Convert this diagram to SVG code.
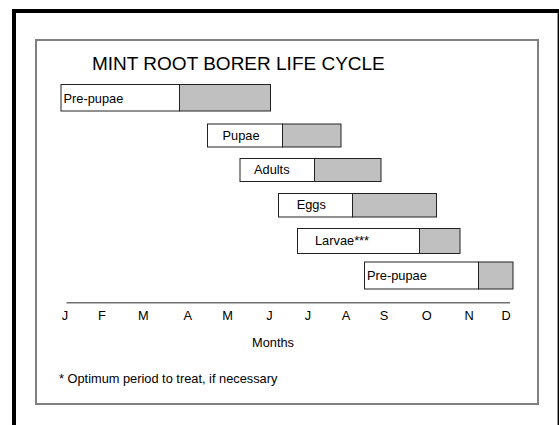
<svg xmlns="http://www.w3.org/2000/svg" width="559" height="425" viewBox="0 0 559 425">
<style>
.lbl{font-family:"Liberation Sans",Arial,sans-serif;font-size:12.8px;fill:#000}
.title{font-family:"Liberation Sans",Arial,sans-serif;font-size:19px;fill:#000}
.w{fill:#fff;stroke:#222;stroke-width:1}
.g{fill:#c0c0c0;stroke:#222;stroke-width:1}
.m{text-anchor:middle}
</style>
<rect width="559" height="425" fill="#fff"/>
<path d="M14 425 V11 H559" fill="none" stroke="#000" stroke-width="4"/>
<line x1="558.3" y1="11" x2="558.3" y2="425" stroke="#000" stroke-width="1.4"/>
<rect x="36" y="40" width="502" height="364" fill="none" stroke="#808080" stroke-width="2"/>
<text class="title" x="92" y="70">MINT ROOT BORER LIFE CYCLE</text>
<g id="prepupae1">
<rect class="w" x="61" y="84.5" width="118.5" height="26.5"/>
<rect class="g" x="179.5" y="84.5" width="91" height="26.5"/>
<text class="lbl" x="63.5" y="103.3">Pre-pupae</text>
</g>
<g id="pupae">
<rect class="w" x="207.5" y="124" width="75" height="23"/>
<rect class="g" x="282.5" y="124" width="58.5" height="23"/>
<text class="lbl" x="222.5" y="140">Pupae</text>
</g>
<g id="adults">
<rect class="w" x="240" y="158.5" width="74.5" height="23"/>
<rect class="g" x="314.5" y="158.5" width="66.5" height="23"/>
<text class="lbl" x="254" y="174.3">Adults</text>
</g>
<g id="eggs">
<rect class="w" x="278.5" y="193.5" width="74" height="23.5"/>
<rect class="g" x="352.5" y="193.5" width="84" height="23.5"/>
<text class="lbl" x="296.7" y="208.5">Eggs</text>
</g>
<g id="larvae">
<rect class="w" x="297.5" y="228.5" width="122" height="25"/>
<rect class="g" x="419.5" y="228.5" width="40.5" height="25"/>
<text class="lbl" x="315" y="245">Larvae***</text>
</g>
<g id="prepupae2">
<rect class="w" x="364.5" y="262" width="114" height="27"/>
<rect class="g" x="478.5" y="262" width="34.5" height="27"/>
<text class="lbl" x="367" y="280">Pre-pupae</text>
</g>
<g id="connectors">
<line x1="66.5" y1="302.7" x2="510" y2="302.7" stroke="#707070" stroke-width="1.5"/>
</g>
<g id="months">
<text class="lbl m" x="65" y="319.5">J</text>
<text class="lbl m" x="102" y="319.5">F</text>
<text class="lbl m" x="143.3" y="319.5">M</text>
<text class="lbl m" x="187.7" y="319.5">A</text>
<text class="lbl m" x="227.7" y="319.5">M</text>
<text class="lbl m" x="269.5" y="319.5">J</text>
<text class="lbl m" x="308" y="319.5">J</text>
<text class="lbl m" x="346" y="319.5">A</text>
<text class="lbl m" x="384" y="319.5">S</text>
<text class="lbl m" x="426.7" y="319.5">O</text>
<text class="lbl m" x="469" y="319.5">N</text>
<text class="lbl m" x="506" y="319.5">D</text>
</g>
<text class="lbl" x="252" y="347">Months</text>
<text class="lbl" x="59" y="382.5">* Optimum period to treat, if necessary</text>
</svg>
